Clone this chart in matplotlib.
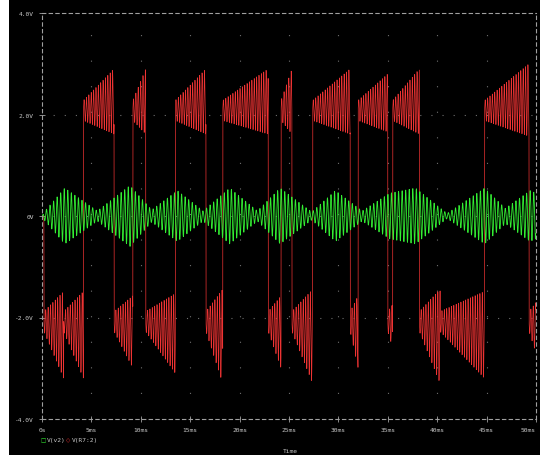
import numpy as np
import matplotlib
matplotlib.use('Agg')
import matplotlib.pyplot as plt
from matplotlib.patches import Rectangle

# ---- values (time in ms, volts) ----
# V(v2): carrier period and beat envelope knots
green_period = 0.36
green_env_t = [0.0, 0.3, 2.3, 5.6, 8.9, 11.1, 13.7, 16.3, 19.0, 21.8, 24.1,
               27.3, 29.7, 32.4, 35.2, 37.8, 41.0, 44.8, 46.9, 49.4, 50.0]
green_env_a = [0.0, 0.1, 0.55, 0.1, 0.6, 0.12, 0.5, 0.1, 0.55, 0.1, 0.55,
               0.08, 0.5, 0.1, 0.45, 0.55, 0.05, 0.55, 0.15, 0.5, 0.45]

# V(R7:2): switching edges, sign of each segment, peak at segment end
red_edges = [0.2, 2.2, 4.2, 7.3, 9.2, 10.5, 13.5, 16.6, 18.3, 22.9, 24.2,
             25.3, 27.4, 31.2, 32.0, 35.0, 35.5, 38.2, 40.3, 44.8, 49.3, 50.0]
red_sign = [-1, -1, 1, -1, 1, -1, 1, -1, 1, -1, 1, -1, 1, -1, 1, -1, 1, -1,
            -1, 1, -1]
red_peak = [3.2, 3.2, 2.9, 3.0, 2.9, 3.1, 2.9, 3.3, 2.9, 3.0, 2.9, 3.3, 2.9,
            3.0, 2.8, 2.6, 2.9, 3.3, 3.2, 3.0, 2.7]
red_level = 2.0
red_ring_period = 0.24

xticks = [0, 5, 10, 15, 20, 25, 30, 35, 40, 45, 50]
xlabels = ['0s', '5ms', '10ms', '15ms', '20ms', '25ms', '30ms', '35ms',
           '40ms', '45ms', '50ms']
yticks = [-4, -2, 0, 2, 4]
ylabels = ['-4.0V', '-2.0V', '0V', '2.0V', '4.0V']

# ---- build traces ----
t = np.arange(0, 50.0, 0.01)

env = np.interp(t, green_env_t, green_env_a)
v2 = env * np.sin(2 * np.pi * t / green_period)

r7 = np.zeros_like(t)
for i in range(len(red_sign)):
    t0, t1 = red_edges[i], red_edges[i + 1]
    m = (t >= t0) & (t < t1)
    frac = (t[m] - t0) / (t1 - t0)
    a = 0.2 + (red_peak[i] - red_level - 0.28) / 1.4 * frac
    ring = 0.4 * a + a * np.sin(2 * np.pi * (t[m] - t0) / red_ring_period)
    r7[m] = red_sign[i] * (red_level + ring)

# ---- figure ----
fig = plt.figure(figsize=(5.42, 4.56), dpi=100)
fig.patch.set_facecolor('white')
fig.patches.append(Rectangle((9 / 542, 0), 531 / 542, 1, transform=fig.transFigure,
                             facecolor='black', edgecolor='none', zorder=-10))

ax = fig.add_axes([42 / 542, 36 / 456, 494 / 542, 406 / 456])
ax.set_facecolor('black')

ax.plot(t, r7, color='#ee3333', lw=0.5)
ax.plot(t, v2, color='#33ee33', lw=0.6)

ax.set_xlim(0, 50)
ax.set_ylim(-4, 4)

# sparse dotted grid
for y in [-2, 0, 2]:
    ax.axhline(y, color='#707070', lw=0.8, ls=(0, (1, 9)), zorder=0)
for x in xticks[1:-1]:
    ax.axvline(x, color='#707070', lw=0.8, ls=(0, (1, 22)), zorder=0)

for s in ax.spines.values():
    s.set_color('#a0a0a0')
    s.set_linestyle((0, (3, 3)))
    s.set_linewidth(0.8)

ax.set_xticks(xticks)
ax.set_xticklabels(xlabels)
ax.set_yticks(yticks)
ax.set_yticklabels(ylabels)
ax.tick_params(colors='#a0a0a0', direction='inout', length=4, width=0.6,
               labelsize=4.5, labelcolor='#c8c8c8', pad=4)
for lab in ax.get_xticklabels() + ax.get_yticklabels():
    lab.set_family('DejaVu Sans Mono')
ax.get_xticklabels()[-1].set_horizontalalignment('right')

# legend row and axis title
ly = 1 - 441 / 456
fig.text(43 / 542, ly, '\u25a1', color='#33ee33', fontsize=4,
         va='center', ha='center')
fig.text(47 / 542, ly, 'V(v2)', color='#c8c8c8', fontsize=4.5,
         va='center', family='DejaVu Sans Mono')
fig.text(68 / 542, ly, '\u25c7', color='#ff3333', fontsize=4,
         va='center', ha='center')
fig.text(72 / 542, ly, 'V(R7:2)', color='#c8c8c8', fontsize=4.5,
         va='center', family='DejaVu Sans Mono')
fig.text(290 / 542, 1 - 452 / 456, 'Time', color='#c8c8c8', fontsize=4.5,
         va='center', ha='center', family='DejaVu Sans Mono')

fig.savefig('out.png', dpi=100, facecolor=fig.get_facecolor())
